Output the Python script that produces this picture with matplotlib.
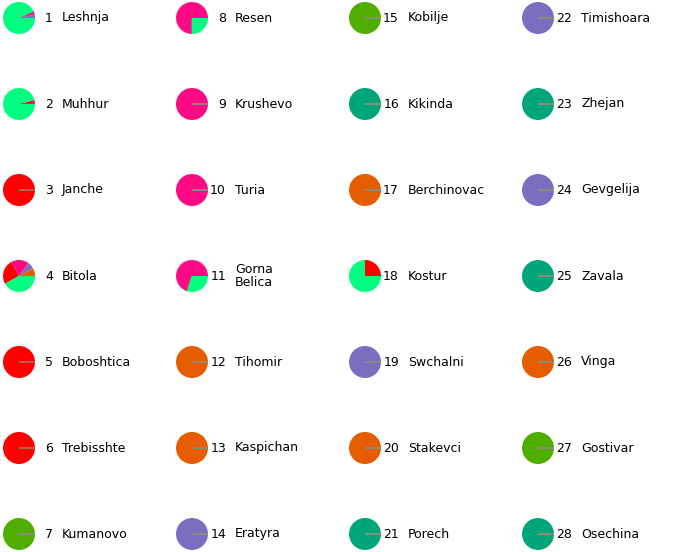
import matplotlib
matplotlib.use("Agg")
import matplotlib.pyplot as plt

# wedge categories, in drawing order (counter-clockwise from 3 o'clock)
colors = ['#4fae00', '#00a67a', '#e65c00', '#7a6ec0', '#ff0a84', '#ff0000', '#00ff80']

ids = list(range(1, 29))
names = ['Leshnja', 'Muhhur', 'Janche', 'Bitola', 'Boboshtica', 'Trebisshte', 'Kumanovo',
         'Resen', 'Krushevo', 'Turia', 'Gorna\nBelica', 'Tihomir', 'Kaspichan', 'Eratyra',
         'Kobilje', 'Kikinda', 'Berchinovac', 'Kostur', 'Swchalni', 'Stakevci', 'Porech',
         'Timishoara', 'Zhejan', 'Gevgelija', 'Zavala', 'Vinga', 'Gostivar', 'Osechina']

# shares per site: olive, teal, orange, purple, pink, red, green
shares = [
    [0, 0, 0, 3.5, 3.5, 0, 93],
    [0, 0, 0, 0, 1.5, 2.5, 96],
    [0, 0, 0, 0, 0, 100, 0],
    [0, 0, 8, 7, 18, 25, 42],
    [0, 0, 0, 0, 0, 100, 0],
    [0, 0, 0, 0, 0, 100, 0],
    [100, 0, 0, 0, 0, 0, 0],
    [0, 0, 0, 0, 75, 0, 25],
    [0, 0, 0, 0, 100, 0, 0],
    [0, 0, 0, 0, 100, 0, 0],
    [0, 0, 0, 0, 70, 0, 30],
    [0, 0, 100, 0, 0, 0, 0],
    [0, 0, 100, 0, 0, 0, 0],
    [0, 0, 0, 100, 0, 0, 0],
    [100, 0, 0, 0, 0, 0, 0],
    [0, 100, 0, 0, 0, 0, 0],
    [0, 0, 100, 0, 0, 0, 0],
    [0, 0, 0, 0, 0, 25, 75],
    [0, 0, 0, 100, 0, 0, 0],
    [0, 0, 100, 0, 0, 0, 0],
    [0, 100, 0, 0, 0, 0, 0],
    [0, 0, 0, 100, 0, 0, 0],
    [0, 100, 0, 0, 0, 0, 0],
    [0, 0, 0, 100, 0, 0, 0],
    [0, 100, 0, 0, 0, 0, 0],
    [0, 0, 100, 0, 0, 0, 0],
    [100, 0, 0, 0, 0, 0, 0],
    [0, 100, 0, 0, 0, 0, 0],
]

W, H = 683, 552
fig = plt.figure(figsize=(W / 100, H / 100), dpi=100)

col_x = [19, 192, 365, 538]
row_y = [18, 104, 190, 276, 362, 448, 534]
r = 16

for i, (num, name, vals) in enumerate(zip(ids, names, shares)):
    cx = col_x[i // 7]
    cy = row_y[i % 7]
    ax = fig.add_axes([(cx - r) / W, 1 - (cy + r) / H, 2 * r / W, 2 * r / H])
    wedges, _ = ax.pie(vals, colors=colors, startangle=0, counterclock=True)
    # empty categories leave a thin grey stroke at 0 degrees
    for w, v in zip(wedges, vals):
        if v == 0:
            w.set_edgecolor('#8c8c7c')
            w.set_linewidth(1.0)
    ax.set_xlim(-1, 1)
    ax.set_ylim(-1, 1)
    fig.text((cx + 34) / W, 1 - cy / H, str(num), ha='right', va='center', fontsize=9)
    fig.text((cx + 43) / W, 1 - cy / H, name, ha='left', va='center', fontsize=9,
             linespacing=1.0)

fig.savefig("out.png", dpi=100)
